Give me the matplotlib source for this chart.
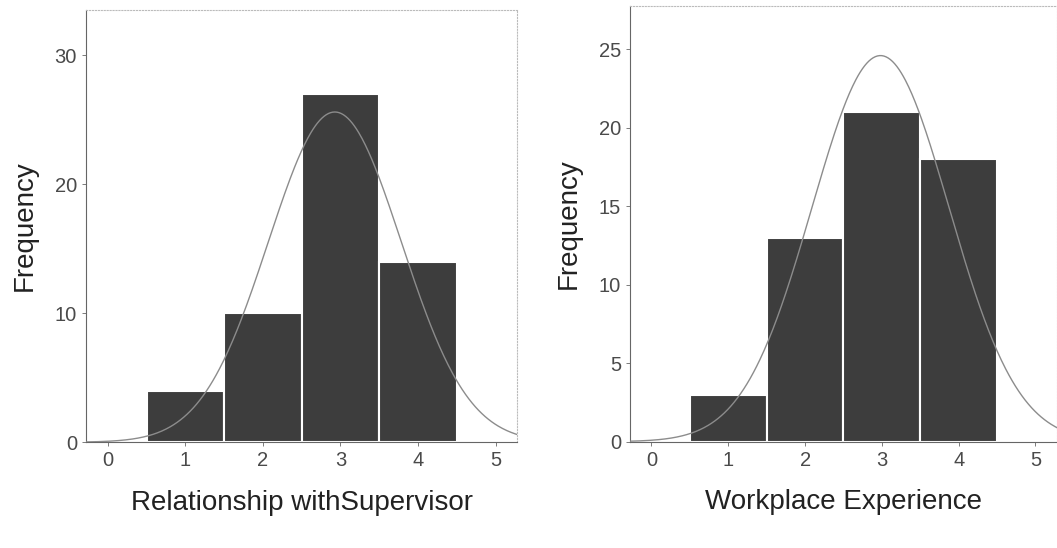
import numpy as np
import matplotlib.pyplot as plt

plt.rcParams['font.family'] = ['Liberation Sans', 'DejaVu Sans']

# histogram counts
scores = [1, 2, 3, 4]
supervisor_counts = [4, 10, 27, 14]
workplace_counts = [3, 13, 21, 18]

x_ticks = [0, 1, 2, 3, 4, 5]
sup_yticks = [0, 10, 20, 30]
work_yticks = [0, 5, 10, 15, 20, 25]


def normal_curve(values, counts):
    data = np.repeat(values, counts)
    mu = data.mean()
    sd = data.std(ddof=1)
    xs = np.linspace(-0.3, 5.3, 400)
    ys = len(data) / (sd * np.sqrt(2 * np.pi)) * np.exp(-0.5 * ((xs - mu) / sd) ** 2)
    return xs, ys


def draw_hist(ax, counts, yticks, ytop, xlabel):
    ax.bar(scores, counts, width=1.0, color='#3d3d3d', edgecolor='white', linewidth=1.5, zorder=2)
    xs, ys = normal_curve(scores, counts)
    ax.plot(xs, ys, color='#8c8c8c', linewidth=1.0, zorder=3)
    ax.set_xlim(-0.28, 5.28)
    ax.set_ylim(0, ytop)
    ax.set_xticks(x_ticks)
    ax.set_yticks(yticks)
    ax.tick_params(colors='#666666', labelsize=14.5, length=3, width=0.6, labelcolor='#4a4a4a')
    for side in ['top', 'right']:
        ax.spines[side].set_color('#bbbbbb')
        ax.spines[side].set_linestyle(':')
        ax.spines[side].set_linewidth(0.8)
    for side in ['left', 'bottom']:
        ax.spines[side].set_color('#666666')
        ax.spines[side].set_linewidth(0.8)
    ax.set_xlabel(xlabel, fontsize=20, labelpad=14, color='#222222')
    ax.set_ylabel('Frequency', fontsize=20, labelpad=12, color='#222222')


fig = plt.figure(figsize=(10.57, 5.48), dpi=100)
ax1 = fig.add_axes([0.0814, 0.193, 0.408, 0.789])
ax2 = fig.add_axes([0.596, 0.194, 0.404, 0.795])

draw_hist(ax1, supervisor_counts, sup_yticks, 33.5, 'Relationship withSupervisor')
draw_hist(ax2, workplace_counts, work_yticks, 27.75, 'Workplace Experience')

fig.savefig('out.png', dpi=100)
